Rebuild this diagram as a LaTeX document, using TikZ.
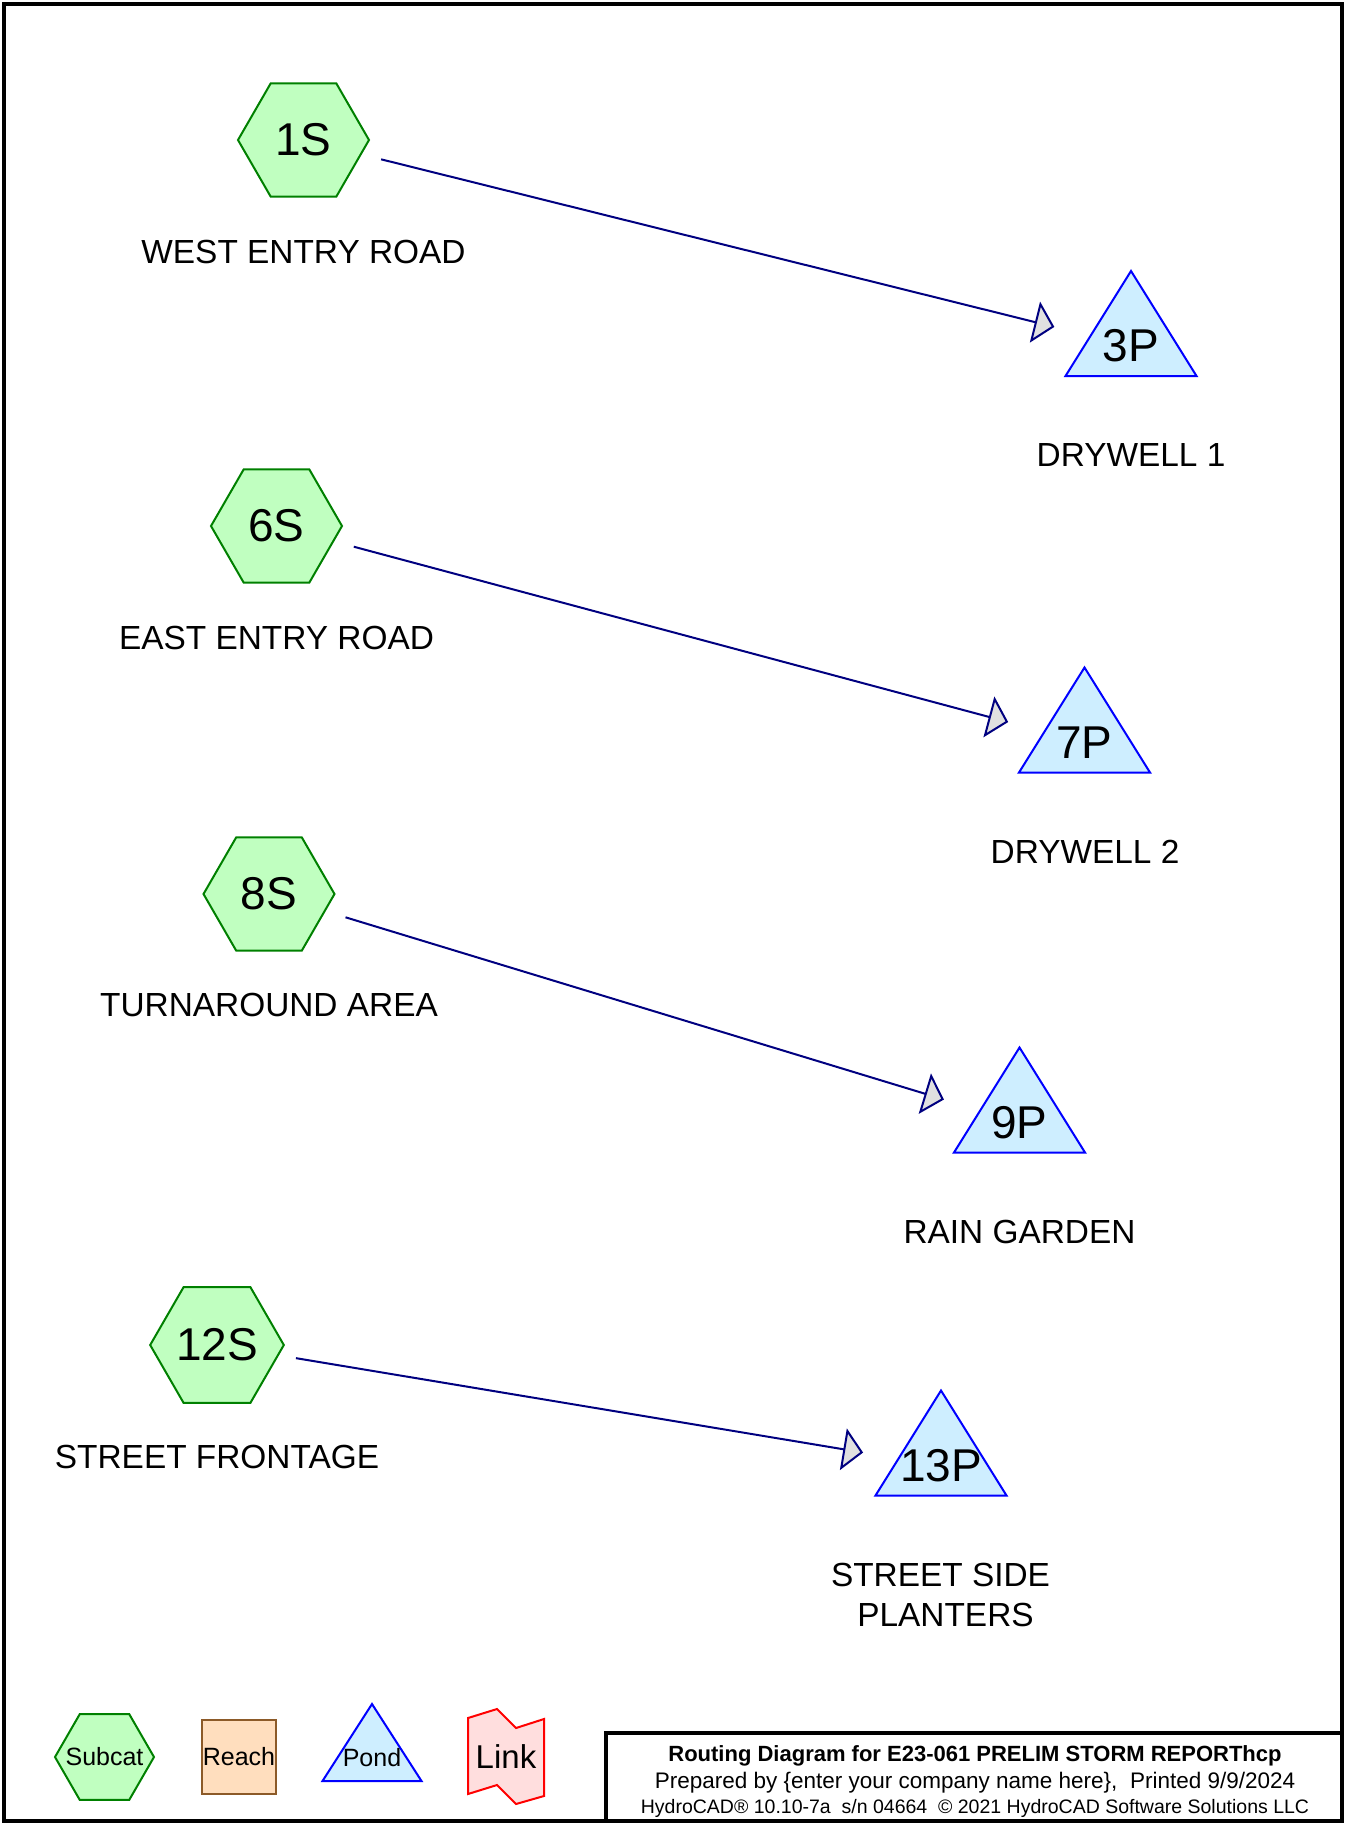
\documentclass[tikz,border=0pt]{standalone}
\usepackage{fontspec}
\setmainfont{Liberation Sans}
\usetikzlibrary{shapes.geometric,arrows.meta}

\definecolor{subfill}{RGB}{192,255,192}
\definecolor{subdraw}{RGB}{0,128,0}
\definecolor{pondfill}{RGB}{206,238,255}
\definecolor{ponddraw}{RGB}{0,0,255}
\definecolor{reachfill}{RGB}{255,222,190}
\definecolor{reachdraw}{RGB}{140,90,40}
\definecolor{linkfill}{RGB}{255,222,222}
\definecolor{linkdraw}{RGB}{255,0,0}
\definecolor{flowcol}{RGB}{0,0,128}
\definecolor{tipfill}{RGB}{224,224,224}

\begin{document}
\begin{tikzpicture}[x=1pt,y=-1pt,
  subcat/.style={regular polygon, regular polygon sides=6, minimum size=131pt,
    inner sep=0pt, fill=subfill, draw=subdraw, line width=2pt,
    font=\fontsize{46}{55}\selectfont},
  pondtext/.style={inner sep=0pt, font=\fontsize{46}{55}\selectfont},
  pondshape/.style={fill=pondfill, draw=ponddraw, line width=2pt},
  lbl/.style={font=\fontsize{33.4}{39.6}\selectfont, align=center, inner sep=0pt},
  flow/.style={draw=flowcol, line width=2pt, shorten <=80pt, shorten >=79pt,
    -{Triangle[length=20pt,width=42pt,fill=tipfill]}},
  legtext/.style={inner sep=0pt, font=\fontsize{25}{30}\selectfont},
  frame/.style={line width=4pt, draw=black}
]
\useasboundingbox (0,0) rectangle (1345,1825);

% subcatchments
\node[subcat] (s1) at (303.5,140) {1S};
\node[lbl] (l1) at (303.5,252) {WEST ENTRY ROAD};
\node[subcat] (s6) at (276.5,526) {6S};
\node[lbl] (l6) at (276.5,638) {EAST ENTRY ROAD};
\node[subcat] (s8) at (269,894) {8S};
\node[lbl] (l8) at (269,1004.5) {TURNAROUND AREA};
\node[subcat] (s12) at (217,1345) {12S};
\node[lbl] (l12) at (217,1457) {STREET FRONTAGE};

% ponds
\path[pondshape] (1131,346) ++(0,-75) -- ++(65.5,105) -- ++(-131,0) -- cycle;
\node[pondtext] (p3) at (1131,346) {3P};
\node[lbl] (lp3) at (1131,455.5) {DRYWELL 1};

\path[pondshape] (1084.5,742.5) ++(0,-75) -- ++(65.5,105) -- ++(-131,0) -- cycle;
\node[pondtext] (p7) at (1084.5,742.5) {7P};
\node[lbl] (lp7) at (1085,852) {DRYWELL 2};

\path[pondshape] (1019.5,1122.5) ++(0,-75) -- ++(65.5,105) -- ++(-131,0) -- cycle;
\node[pondtext] (p9) at (1019.5,1122.5) {9P};
\node[lbl] (lp9) at (1019.5,1232) {RAIN GARDEN};

\path[pondshape] (941,1465.5) ++(0,-75) -- ++(65.5,105) -- ++(-131,0) -- cycle;
\node[pondtext] (p13) at (941,1465.5) {13P};
\node[lbl] (lp13) at (940.5,1595) {STREET SIDE\\\hspace*{10pt}PLANTERS};

% flows
\draw[flow] (s1.center) -- (p3.center);
\draw[flow] (s6.center) -- (p7.center);
\draw[flow] (s8.center) -- (p9.center);
\draw[flow] (s12.center) -- (p13.center);

% legend
\node[subcat, minimum size=99pt, font=\fontsize{25}{30}\selectfont,
  label={[legtext]center:Subcat}] (lsub) at (104.5,1757) {};
\node[draw=reachdraw, fill=reachfill, line width=2pt, minimum size=74pt,
  inner sep=0pt, font=\fontsize{25}{30}\selectfont] (lreach) at (239,1757) {Reach};
\path[pondshape] (372,1758) ++(0,-54) -- ++(49.5,77) -- ++(-99,0) -- cycle;
\node[legtext] (lpond) at (372,1758) {Pond};
\path[fill=linkfill, draw=linkdraw, line width=2pt]
  (468,1718) -- (497,1709) -- (516,1728) -- (544,1719) -- (544,1796)
  -- (516,1804) -- (497,1785) -- (468,1794) -- cycle;
\node[inner sep=0pt, font=\fontsize{33}{40}\selectfont] (llink) at (506,1757) {Link};

% frame and title block
\draw[frame] (4,4) rectangle (1342,1821);
\draw[frame] (606,1821) |- (1342,1732.5);
\node[anchor=base, inner sep=0pt, font={\bfseries\fontsize{22}{26}\selectfont}] (t1) at (975,1761)
  {Routing Diagram for E23-061 PRELIM STORM REPORThcp};
\node[anchor=base, inner sep=0pt, font={\fontsize{22.5}{26}\selectfont}] (t2) at (975,1788)
  {Prepared by \{enter your company name here\},\ \ Printed 9/9/2024};
\node[anchor=base, inner sep=0pt, font={\fontsize{19.5}{23}\selectfont}] (t3) at (975,1813)
  {HydroCAD® 10.10-7a\ \ s/n 04664\ \ © 2021 HydroCAD Software Solutions LLC};
\end{tikzpicture}
\end{document}
